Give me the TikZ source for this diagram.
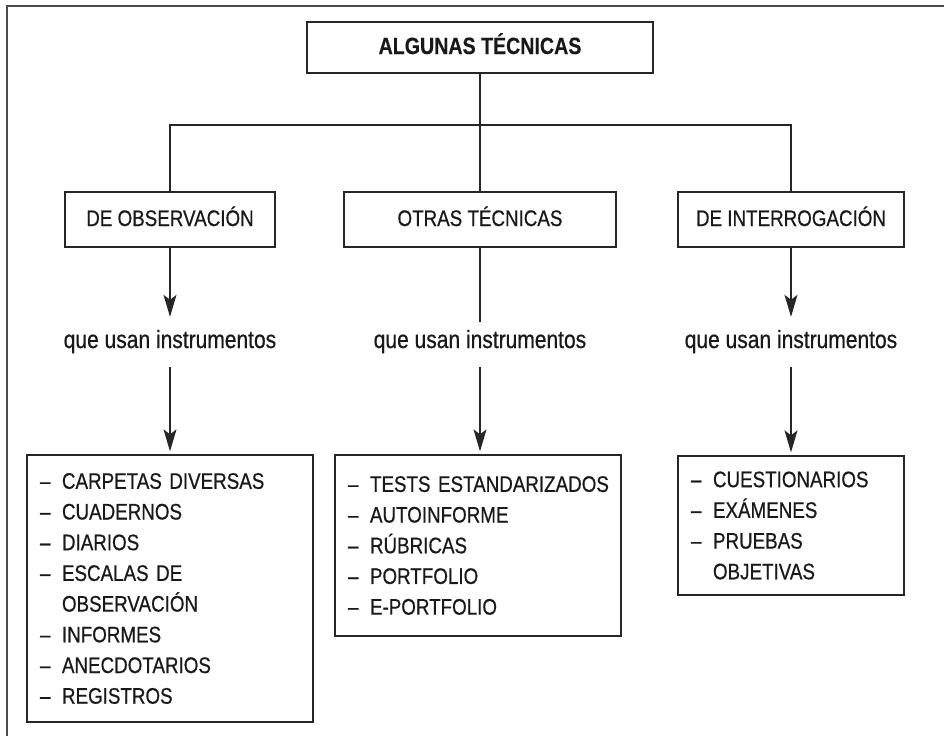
\documentclass[tikz,border=0pt]{standalone}
\usepackage{fontspec}
\setmainfont{Liberation Sans}[FakeStretch=0.835,
  UprightFeatures={FakeBold=0.6}, BoldFeatures={FakeBold=0.4}]
\newfontfamily\lcfont{Liberation Sans}[FakeStretch=0.84, FakeBold=0.6]
\usetikzlibrary{arrows.meta}
\newcommand{\itm}[1]{\mbox{\makebox[22pt][l]{–}#1}}
\newcommand{\cont}[1]{\mbox{\hspace*{22pt}#1}}
\begin{document}
\begin{tikzpicture}[x=1pt,y=-1pt,
  box/.style={draw=black!85, line width=1.3pt, inner sep=0pt, text height=16pt, text depth=3pt,
    font=\fontsize{22.5}{27}\selectfont, text=black!90},
  listbox/.style={draw=black!85, line width=1.3pt, inner xsep=13pt, inner ysep=0pt, align=left,
    font=\fontsize{22.5}{30.7}\selectfont, text=black!90},
  lbl/.style={font=\lcfont\fontsize{25}{30}\selectfont, inner sep=0pt, text height=18pt,
    text depth=6pt, anchor=base, text=black!90},
  conn/.style={line width=1.2pt, draw=black!85},
  arr/.style={conn, -{Stealth[length=22pt,width=13pt,inset=5pt]}},
]
\useasboundingbox (0,0) rectangle (944,736);
\draw[line width=1.5pt, black!70] (944,6) -- (7,6) -- (7,736);

\node[box, font=\bfseries\fontsize{23.5}{27}\selectfont, text height=17pt, text depth=4pt,
  minimum width=346pt, minimum height=51pt] (top) at (480,47.5) {ALGUNAS TÉCNICAS};

\node[box, minimum width=210pt, minimum height=55pt] (obs) at (170,219.5) {DE OBSERVACIÓN};
\node[box, minimum width=272pt, minimum height=55pt] (otr) at (480,219.5) {OTRAS TÉCNICAS};
\node[box, minimum width=226pt, minimum height=55pt] (int) at (791,219.5) {DE INTERROGACIÓN};

\coordinate (hb) at (480,125);
\draw[conn] (top.south) -- (otr.north);
\draw[conn] (obs.north) |- (hb) -| (int.north);

\node[lbl] (q1) at (170,348) {que usan instrumentos};
\node[lbl] (q2) at (480,348) {que usan instrumentos};
\node[lbl] (q3) at (791,348) {que usan instrumentos};

\node[listbox, text width=260pt, minimum height=267pt] (l1) at (170,588.5)
  {\itm{CARPETAS DIVERSAS}\\ \itm{CUADERNOS}\\ \itm{DIARIOS}\\ \itm{ESCALAS DE}\\
   \cont{OBSERVACIÓN}\\ \itm{INFORMES}\\ \itm{ANECDOTARIOS}\\ \itm{REGISTROS}};
\node[listbox, text width=260pt, minimum height=181pt] (l2) at (478,545.5)
  {\itm{TESTS ESTANDARIZADOS}\\ \itm{AUTOINFORME}\\ \itm{RÚBRICAS}\\ \itm{PORTFOLIO}\\
   \itm{E-PORTFOLIO}};
\node[listbox, text width=200pt, minimum height=139pt] (l3) at (791,525.5)
  {\itm{CUESTIONARIOS}\\ \itm{EXÁMENES}\\ \itm{PRUEBAS}\\ \cont{OBJETIVAS}};

\draw[arr, shorten >=13pt] (obs.south) -- (q1.north);
\draw[conn, shorten >=8pt] (otr.south) -- (q2.north);
\draw[arr, shorten >=13pt] (int.south) -- (q3.north);

\draw[arr, shorten <=13pt, shorten >=3pt] (q1.south) -- (l1.north);
\draw[arr, shorten <=13pt, shorten >=3pt] (q2.south) -- (q2.south |- l2.north);
\draw[arr, shorten <=13pt, shorten >=3pt] (q3.south) -- (l3.north);
\end{tikzpicture}
\end{document}
